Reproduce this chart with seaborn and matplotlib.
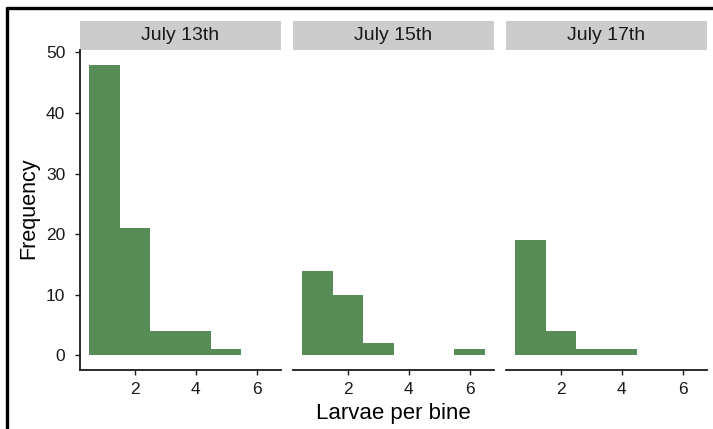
import matplotlib
matplotlib.use("Agg")
import matplotlib.pyplot as plt
from matplotlib.patches import Rectangle
from matplotlib.lines import Line2D
import seaborn as sns
import pandas as pd

# ---- data ----
larvae_per_bine = [1, 2, 3, 4, 5, 6]
dates = ["July 13th", "July 15th", "July 17th"]
freq_jul13 = [48, 21, 4, 4, 1, 0]
freq_jul15 = [14, 10, 2, 0, 0, 1]
freq_jul17 = [19, 4, 1, 1, 0, 0]

df = pd.DataFrame({
    "larvae": larvae_per_bine * 3,
    "count": freq_jul13 + freq_jul15 + freq_jul17,
    "date": [d for d in dates for _ in larvae_per_bine],
})

sns.set_style("white")
plt.rcParams["font.family"] = ["Liberation Sans", "DejaVu Sans"]

W, H = 713, 429
g = sns.FacetGrid(df, col="date", col_order=dates, sharex=True, sharey=True,
                  height=3, aspect=1, despine=False)
g.figure.set_size_inches(W / 100, H / 100)
g.map_dataframe(sns.histplot, x="larvae", weights="count", discrete=True,
                color="#588C57", alpha=1, linewidth=0, edgecolor="none")

g.figure.subplots_adjust(left=80 / W, right=707 / W, bottom=1 - 370 / H,
                         top=1 - 50 / H, wspace=12 / 201)

strip_h = 29 / 320
for i, (ax, d) in enumerate(zip(g.axes.flat, dates)):
    ax.set_xlim(0.2, 6.8)
    ax.set_ylim(-2.4, 50.4)
    ax.set_xticks([2, 4, 6])
    ax.set_yticks([0, 10, 20, 30, 40, 50])
    ax.set_title("")
    ax.set_xlabel("")
    ax.set_ylabel("")
    for s in ["top", "right"]:
        ax.spines[s].set_visible(False)
    ax.spines["bottom"].set_linewidth(1.3)
    ax.spines["bottom"].set_color("#1a1a1a")
    ax.spines["left"].set_linewidth(1.3)
    ax.spines["left"].set_color("#1a1a1a")
    ax.tick_params(axis="both", direction="out", length=3.6, width=1,
                   color="#1a1a1a", labelsize=12.5, labelcolor="#1a1a1a")
    ax.tick_params(axis="x", pad=5)
    ax.tick_params(axis="y", pad=7)
    if i > 0:
        ax.spines["left"].set_visible(False)
        ax.tick_params(axis="y", left=False, labelleft=False)
    else:
        ax.tick_params(axis="y", left=True, labelleft=True)
    ax.tick_params(axis="x", bottom=True)
    ax.add_patch(Rectangle((0, 1), 1, strip_h, transform=ax.transAxes,
                           facecolor="#cccccc", edgecolor="none", clip_on=False))
    ax.text(0.5, 1 + strip_h / 2, d, transform=ax.transAxes, ha="center",
            va="center", fontsize=14, color="#1a1a1a")

fig = g.figure
fig.text((80 + 707) / 2 / W, 1 - 413 / H, "Larvae per bine", ha="center",
         va="center", fontsize=16, color="#000000")
fig.text(29 / W, 1 - 208 / H, "Frequency", ha="center", va="center",
         rotation=90, fontsize=15.5, color="#000000")

# outer frame (left and top edges visible)
fig.add_artist(Line2D([6.5 / W, 6.5 / W], [0, 1 - 7.5 / H], transform=fig.transFigure,
                      color="black", linewidth=2.4))
fig.add_artist(Line2D([6.5 / W, 1], [1 - 7.5 / H, 1 - 7.5 / H], transform=fig.transFigure,
                      color="black", linewidth=2.4))

fig.savefig("out.png", dpi=100)
